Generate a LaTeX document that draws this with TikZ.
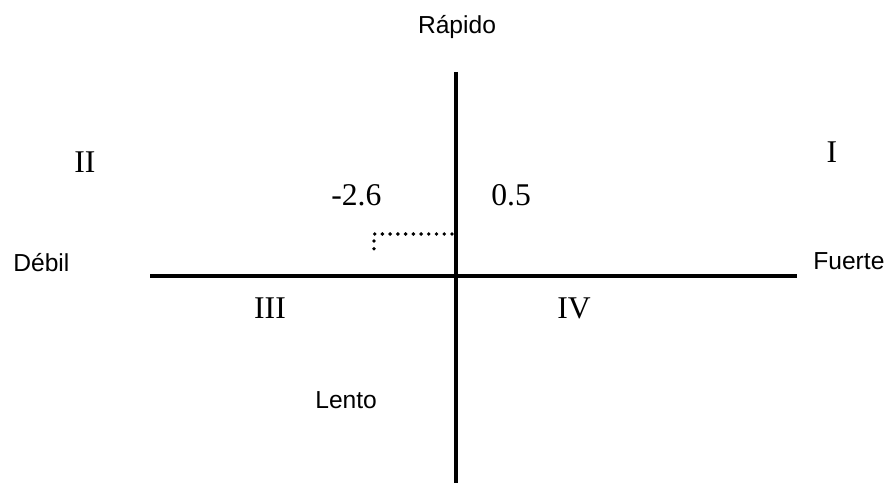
\documentclass[tikz,border=0pt]{standalone}
\usepackage{fontspec}
\setmainfont{Liberation Serif}
\setsansfont{Liberation Sans}
\usetikzlibrary{positioning}
\tikzset{
  axis/.style={line width=2.4pt},
  guide/.style={line width=2.2pt, dash pattern=on 0pt off 4.4pt, line cap=round},
  pole/.style={font=\sffamily\fontsize{14}{16}\selectfont, inner sep=0pt},
  quad/.style={font=\fontsize{18}{20}\selectfont, inner sep=0pt, anchor=base},
  val/.style={font=\fontsize{18}{20}\selectfont, inner sep=0pt, anchor=base west},
}
\begin{document}
\begin{tikzpicture}[x=0.02cm, y=-0.02cm]
\useasboundingbox (0,0) rectangle (893,483);

% axes
\coordinate (wEnd) at (150,276);
\coordinate (eEnd) at (797,276);
\coordinate (nEnd) at (456,72);
\coordinate (sEnd) at (456,483);
\draw[axis] (wEnd) -- (eEnd);
\draw[axis] (nEnd) -- (sEnd);

% point (-2.6, 0.5)
\coordinate (onAxis) at (452,234);
\coordinate (corner) at (374,234);
\coordinate (drop) at (374,251);
\draw[guide] (onAxis) -- (corner) -- (drop);

% pole labels
\node[pole, anchor=base] (rapido) at (457,34) {Rápido};
\node[pole, anchor=base west] (lento) at (315,408) {Lento};
\node[pole, anchor=base west] (debil) at (13,271) {Débil};
\node[pole, anchor=base west] (fuerte) at (813,269) {Fuerte};

% quadrants
\node[quad] (qI) at (832,163) {I};
\node[quad] (qII) at (85,173) {II};
\node[quad] (qIII) at (270,318) {III};
\node[quad] (qIV) at (574,318) {IV};

% values
\node[val] (xval) at (331,205) {-2.6};
\node[val] (yval) at (491,205) {0.5};
\end{tikzpicture}
\end{document}
